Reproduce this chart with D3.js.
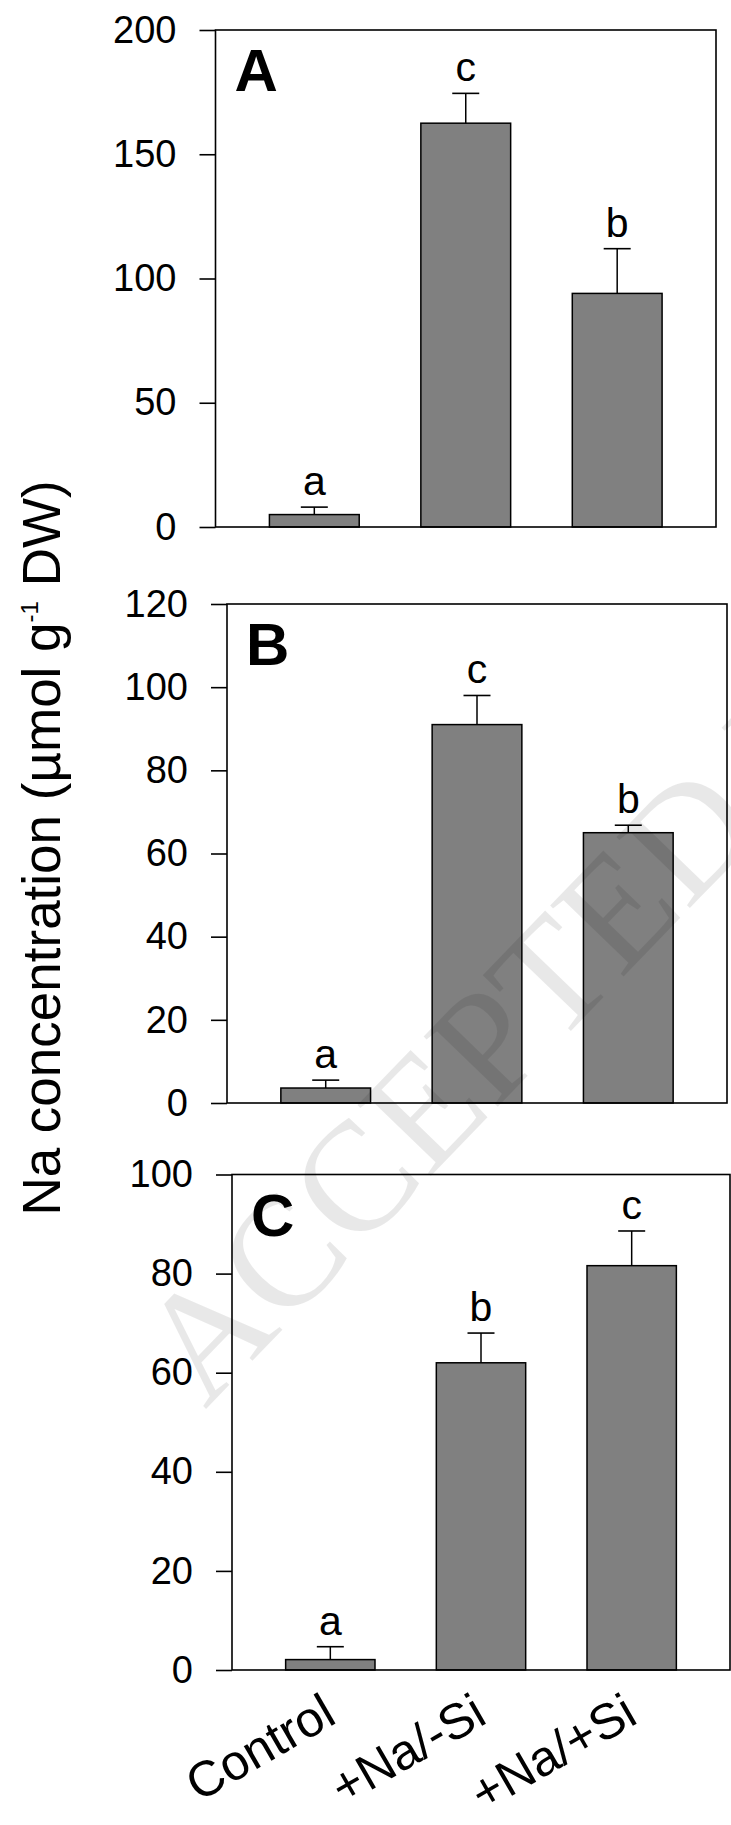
<!DOCTYPE html>
<html>
<head>
<meta charset="utf-8">
<script src="https://cdn.jsdelivr.net/npm/d3@7/dist/d3.min.js"></script>
<style>
  html, body { margin: 0; padding: 0; background: #fff; }
  svg { display: block; }
</style>
</head>
<body>
<svg id="chart" width="731" height="1825"></svg>
<script>
// Treatments shared by all three panels
const categories = ["Control", "+Na/-Si", "+Na/+Si"];

// Panel A
const meansA = [5, 162.5, 94];
const errA = [3, 12, 18];
const lettersA = ["a", "c", "b"];
const ticksA = [0, 50, 100, 150, 200];

// Panel B
const meansB = [3.6, 91, 65];
const errB = [1.9, 7, 1.8];
const lettersB = ["a", "c", "b"];
const ticksB = [0, 20, 40, 60, 80, 100, 120];

// Panel C
const meansC = [2.1, 62, 81.6];
const errC = [2.6, 6, 7];
const lettersC = ["a", "b", "c"];
const ticksC = [0, 20, 40, 60, 80, 100];

const panelLabels = ["A", "B", "C"];

// Frame of each panel on the page
const frames = [
  { left: 215.5, right: 716, top: 30, bottom: 527 },
  { left: 227, right: 727, top: 604, bottom: 1103 },
  { left: 232, right: 730, top: 1174.5, bottom: 1670 }
];

const panels = [
  { label: panelLabels[0], means: meansA, err: errA, letters: lettersA, ticks: ticksA, frame: frames[0] },
  { label: panelLabels[1], means: meansB, err: errB, letters: lettersB, ticks: ticksB, frame: frames[1] },
  { label: panelLabels[2], means: meansC, err: errC, letters: lettersC, ticks: ticksC, frame: frames[2] }
];

const SANS = "'Liberation Sans', Arial, sans-serif";
const SERIF = "'Liberation Serif', 'Times New Roman', serif";

const svg = d3.select("#chart");
const LW = 1.6;

panels.forEach((p, pi) => {
  const f = p.frame;
  const g = svg.append("g").style("font-family", SANS);

  const x = d3.scaleBand()
    .domain(categories)
    .range([f.left, f.right])
    .paddingInner(0.407)
    .paddingOuter(0.356);

  const y = d3.scaleLinear()
    .domain([0, d3.max(p.ticks)])
    .range([f.bottom, f.top]);

  const rows = categories.map((c, i) => ({ cat: c, v: p.means[i], e: p.err[i], l: p.letters[i] }));

  // bars
  g.selectAll("rect.bar").data(rows).join("rect")
    .attr("class", "bar")
    .attr("x", d => x(d.cat))
    .attr("width", x.bandwidth())
    .attr("y", d => y(d.v))
    .attr("height", d => y(0) - y(d.v))
    .attr("fill", "#808080")
    .attr("stroke", "#000")
    .attr("stroke-width", 1.5);

  // upper error bars
  const capHalf = 13.5;
  g.selectAll("line.err").data(rows).join("line")
    .attr("class", "err")
    .attr("x1", d => x(d.cat) + x.bandwidth() / 2)
    .attr("x2", d => x(d.cat) + x.bandwidth() / 2)
    .attr("y1", d => y(d.v))
    .attr("y2", d => y(d.v + d.e))
    .attr("stroke", "#000").attr("stroke-width", 1.5);
  g.selectAll("line.cap").data(rows).join("line")
    .attr("class", "cap")
    .attr("x1", d => x(d.cat) + x.bandwidth() / 2 - capHalf)
    .attr("x2", d => x(d.cat) + x.bandwidth() / 2 + capHalf)
    .attr("y1", d => y(d.v + d.e))
    .attr("y2", d => y(d.v + d.e))
    .attr("stroke", "#000").attr("stroke-width", 1.6);

  // significance letters
  g.selectAll("text.sig").data(rows).join("text")
    .attr("class", "sig")
    .attr("x", d => x(d.cat) + x.bandwidth() / 2)
    .attr("y", d => y(d.v + d.e) - 12)
    .attr("text-anchor", "middle")
    .style("font-size", "41px")
    .text(d => d.l);

  // left axis
  const ax = g.append("g")
    .attr("transform", `translate(${f.left},0)`)
    .call(d3.axisLeft(y).tickValues(p.ticks).tickSize(16).tickPadding(23).tickSizeOuter(0));
  ax.select(".domain").remove();
  ax.selectAll(".tick line").attr("stroke", "#000").attr("stroke-width", LW);
  ax.selectAll(".tick text")
    .style("font-size", "38px")
    .style("font-family", SANS)
    .attr("fill", "#000");

  // frame
  g.append("rect")
    .attr("x", f.left).attr("y", f.top)
    .attr("width", f.right - f.left).attr("height", f.bottom - f.top)
    .attr("fill", "none").attr("stroke", "#000").attr("stroke-width", LW);

  // panel letter
  g.append("text")
    .attr("x", f.left + 19)
    .attr("y", f.top + 61)
    .style("font-size", "60px")
    .style("font-weight", "bold")
    .text(p.label);

  // category labels under the last panel
  if (pi === panels.length - 1) {
    g.selectAll("text.cat").data(categories).join("text")
      .attr("class", "cat")
      .attr("text-anchor", "end")
      .style("font-size", "50px")
      .attr("transform", c => `translate(${x(c) + x.bandwidth() / 2 + 8},${f.bottom + 52}) rotate(-30)`)
      .text(c => c);
  }
});

// shared y-axis title
const title = svg.append("text")
  .attr("transform", "translate(60,848) rotate(-90)")
  .attr("text-anchor", "middle")
  .style("font-family", SANS)
  .style("font-size", "53px");
title.append("tspan").text("Na concentration (µmol g");
title.append("tspan").style("font-size", "24px").attr("dy", -22).text("-1");
title.append("tspan").attr("dy", 22).text(" DW)");

// faint diagonal stamp across the figure
svg.append("text")
  .attr("transform", "translate(205,1410) rotate(-46)")
  .style("font-family", SERIF)
  .style("font-size", "156px")
  .attr("fill", "#000")
  .attr("fill-opacity", 0.09)
  .text("ACCEPTED M");
</script>
</body>
</html>
